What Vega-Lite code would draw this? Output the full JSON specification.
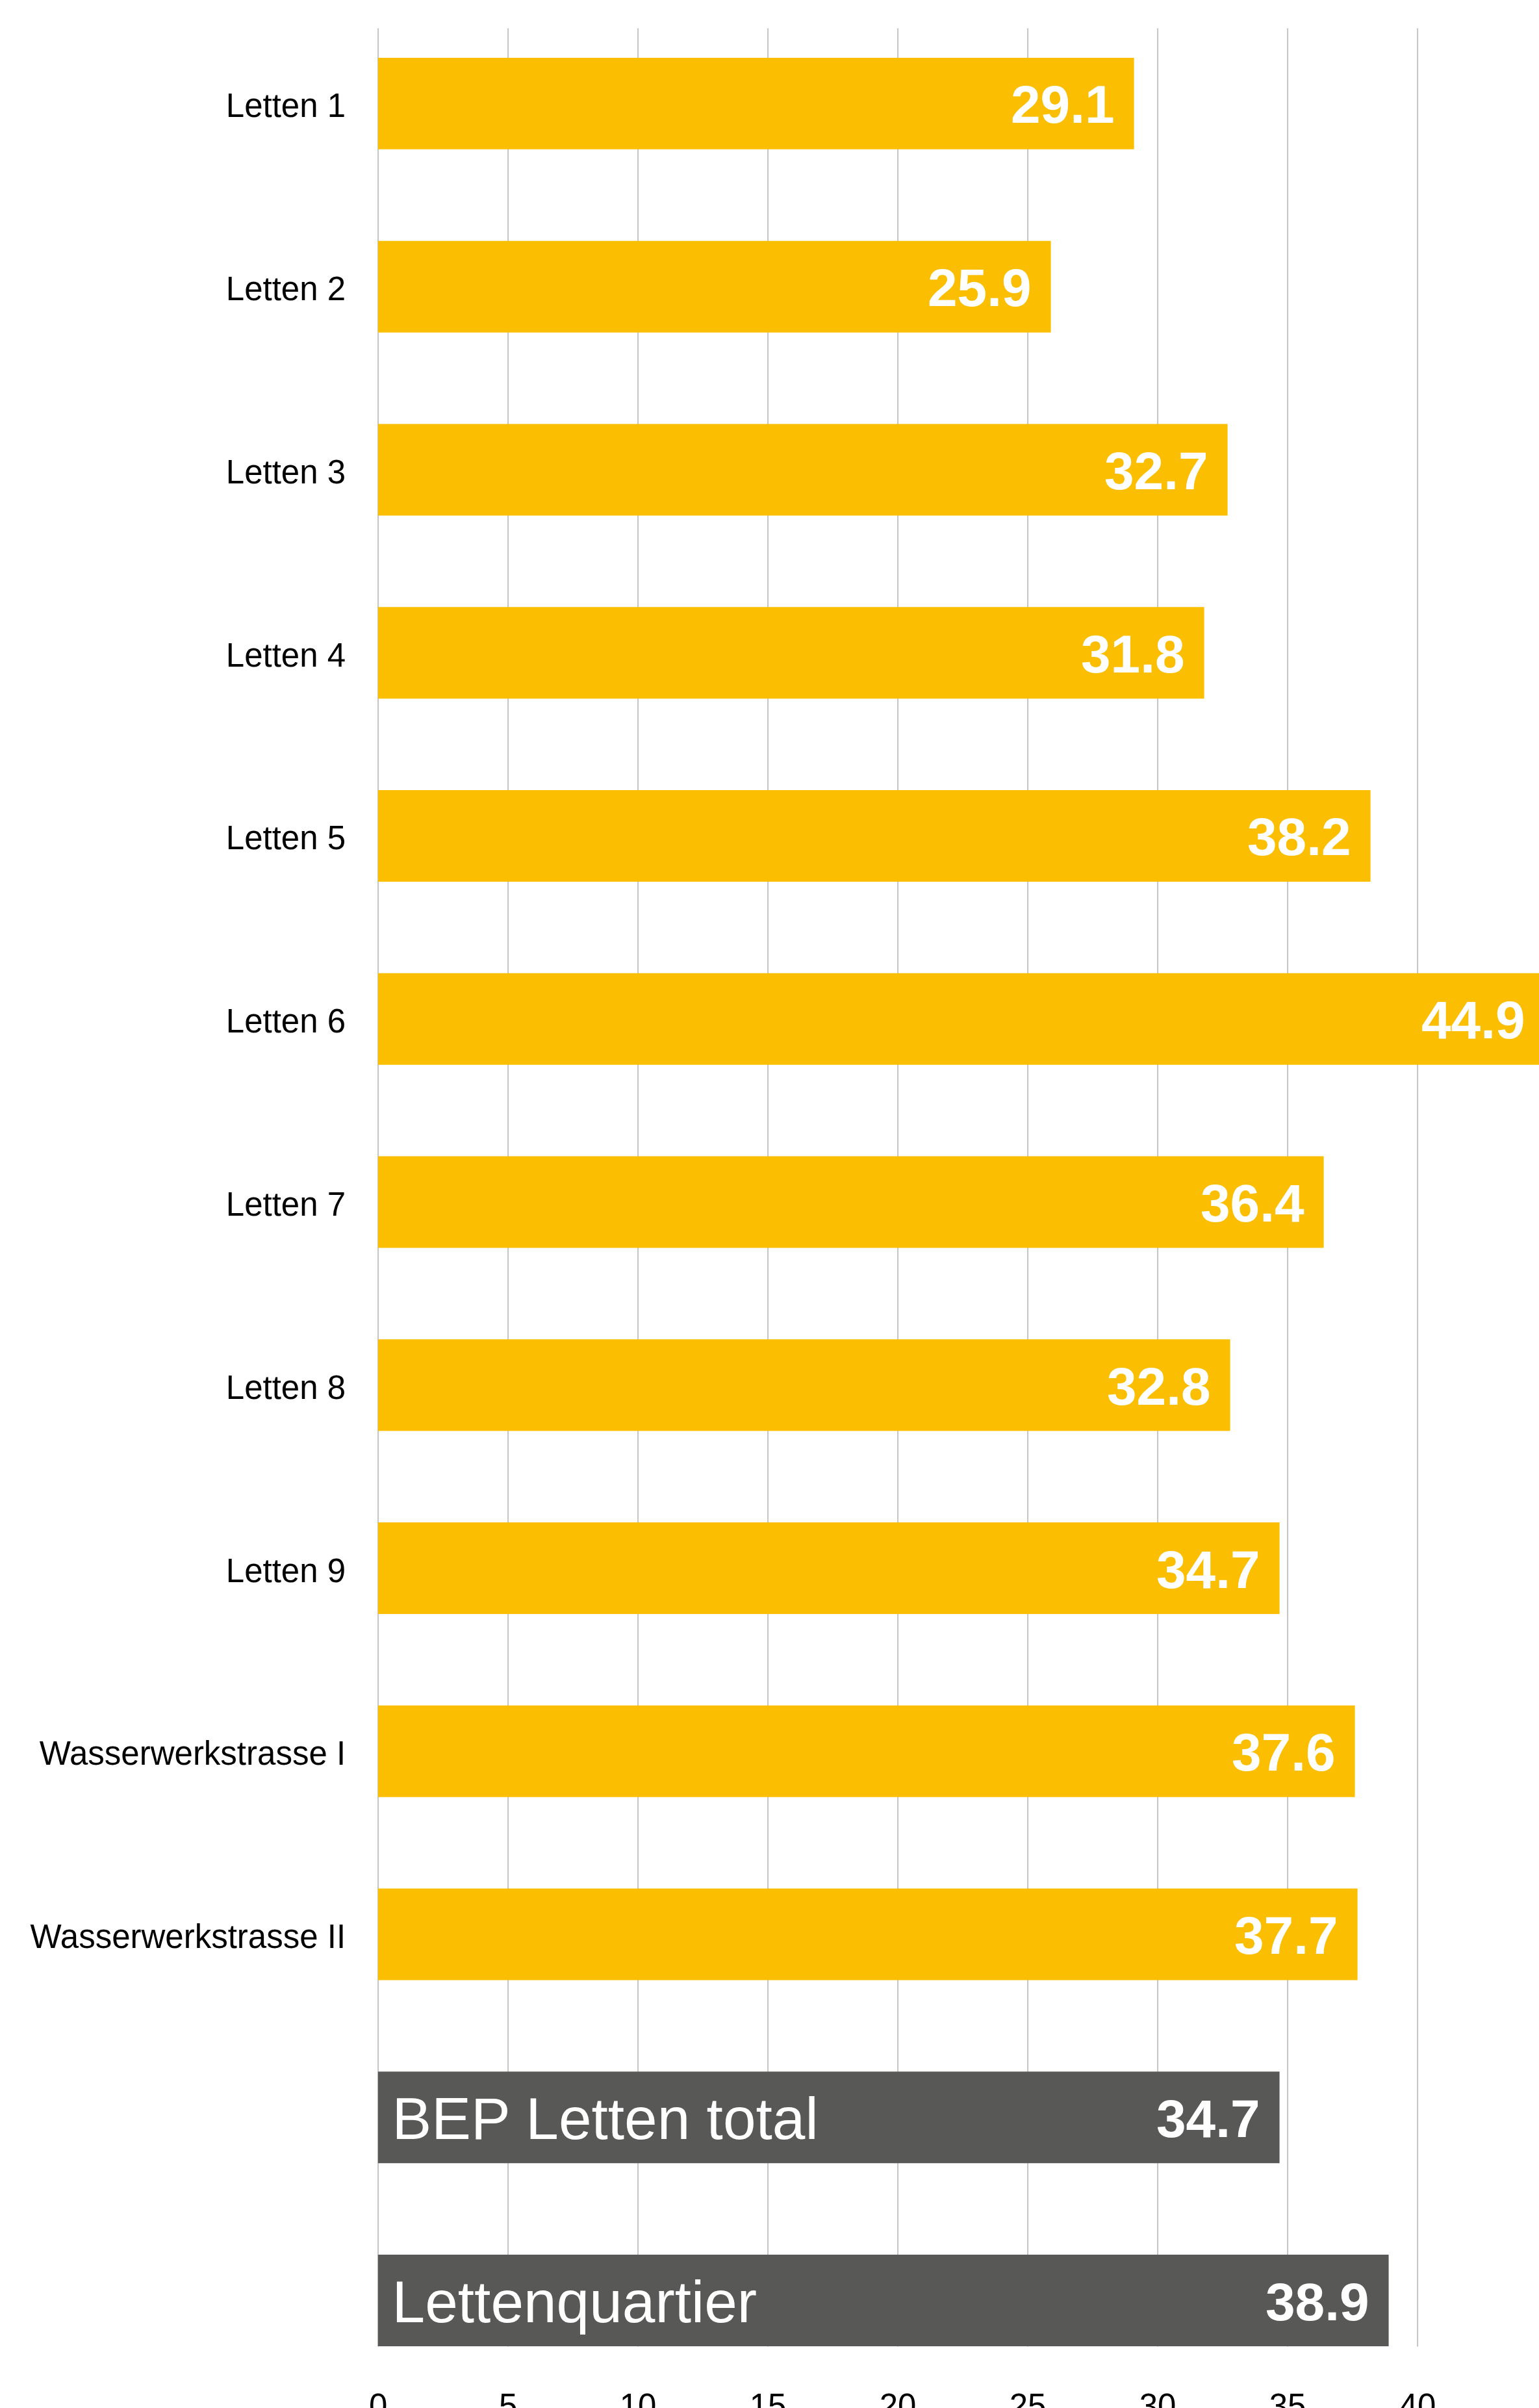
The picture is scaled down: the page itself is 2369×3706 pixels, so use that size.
{
  "$schema": "https://vega.github.io/schema/vega-lite/v6.json",
  "autosize": "none",
  "width": 1787.4,
  "height": 3568,
  "padding": {"left": 581.6, "top": 43, "right": 0, "bottom": 95},
  "background": "white",
  "config": {"view": {"stroke": null}},
  "data": {
    "values": [
      {"name": "Letten 1", "value": 29.1, "type": "Siedlung"},
      {"name": "Letten 2", "value": 25.9, "type": "Siedlung"},
      {"name": "Letten 3", "value": 32.7, "type": "Siedlung"},
      {"name": "Letten 4", "value": 31.8, "type": "Siedlung"},
      {"name": "Letten 5", "value": 38.2, "type": "Siedlung"},
      {"name": "Letten 6", "value": 44.9, "type": "Siedlung"},
      {"name": "Letten 7", "value": 36.4, "type": "Siedlung"},
      {"name": "Letten 8", "value": 32.8, "type": "Siedlung"},
      {"name": "Letten 9", "value": 34.7, "type": "Siedlung"},
      {"name": "Wasserwerkstrasse I", "value": 37.6, "type": "Siedlung"},
      {"name": "Wasserwerkstrasse II", "value": 37.7, "type": "Siedlung"},
      {"name": "BEP Letten total", "value": 34.7, "type": "Total"},
      {"name": "Lettenquartier", "value": 38.9, "type": "Total"}
    ]
  },
  "encoding": {
    "y": {
      "field": "name",
      "type": "nominal",
      "sort": null,
      "scale": {"paddingInner": 0.5, "paddingOuter": 0.0816, "align": 1},
      "axis": {
        "title": null,
        "domain": false,
        "ticks": false,
        "grid": false,
        "labelPadding": 50,
        "labelFontSize": 51,
        "labelFont": "Liberation Sans",
        "labelColor": "#000000",
        "labelBaseline": "middle",
        "labelOffset": 6,
        "labelLimit": 0,
        "labelExpr": "indexof(['BEP Letten total','Lettenquartier'], datum.label) >= 0 ? '' : datum.label"
      }
    }
  },
  "layer": [
    {
      "mark": {"type": "bar", "clip": true},
      "encoding": {
        "x": {
          "field": "value",
          "type": "quantitative",
          "scale": {"domain": [0, 44.685], "nice": false, "zero": true},
          "axis": {
            "title": null,
            "values": [0, 5, 10, 15, 20, 25, 30, 35, 40, 45],
            "domain": false,
            "ticks": false,
            "grid": true,
            "gridColor": "#c4c4c4",
            "gridWidth": 2,
            "labelPadding": 68,
            "labelFontSize": 51,
            "labelFont": "Liberation Sans",
            "labelColor": "#000000",
            "labelFlush": false
          }
        },
        "color": {
          "field": "type",
          "type": "nominal",
          "scale": {"domain": ["Siedlung", "Total"], "range": ["#FBBE00", "#585857"]},
          "legend": null
        }
      }
    },
    {
      "mark": {"type": "text", "align": "right", "baseline": "middle", "dx": -30, "dy": 5, "color": "white", "fontSize": 82, "fontWeight": "bold", "font": "Liberation Sans"},
      "encoding": {
        "x": {"field": "value", "type": "quantitative"},
        "text": {"field": "value", "type": "quantitative", "format": ".1f"}
      }
    },
    {
      "transform": [{"filter": "datum.type === 'Total'"}],
      "mark": {"type": "text", "align": "left", "baseline": "middle", "dx": 22, "dy": 6, "color": "white", "fontSize": 91, "font": "Liberation Sans"},
      "encoding": {
        "x": {"datum": 0, "type": "quantitative"},
        "text": {"field": "name"}
      }
    }
  ]
}
